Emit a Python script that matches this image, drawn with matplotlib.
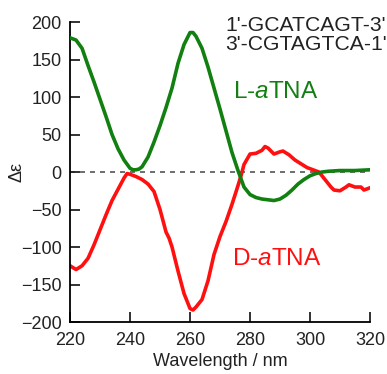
import matplotlib
matplotlib.use("Agg")
import matplotlib.pyplot as plt

plt.rcParams['font.family'] = ['Liberation Sans', 'DejaVu Sans']
plt.rcParams['mathtext.fontset'] = 'custom'
plt.rcParams['mathtext.rm'] = 'Liberation Sans'
plt.rcParams['mathtext.it'] = 'Liberation Sans:italic'

wl_L = [220, 222, 224, 226, 228, 230, 232, 234, 236, 238, 240, 241, 242, 243, 244, 246, 248, 250, 252, 254,
        256, 258, 260, 261, 262, 264, 266, 268, 270, 272, 274, 276, 278, 280, 282, 284, 286, 288, 290,
        292, 294, 296, 298, 300, 302, 304, 306, 310, 315, 320]
cd_L = [179, 176, 165, 142, 120, 97, 74, 50, 31, 16, 5, 3, 3, 4, 7, 20, 40, 62, 86, 112,
        145, 170, 186, 186, 181, 165, 140, 112, 84, 55, 26, 2, -20, -30, -34, -36, -37, -38, -36,
        -31, -24, -16, -10, -5, -2, 0, 1, 2, 2, 3]

wl_D = [220, 222, 224, 226, 228, 230, 232, 234, 236, 238, 239, 240, 242, 244, 246, 248, 250, 252, 253,
        254, 256, 258, 260, 261, 262, 264, 266, 268, 270, 272, 274, 276, 277, 278, 280, 282, 284, 285,
        286, 288, 290, 291, 293, 295, 297, 299, 301, 303, 305, 307, 308, 310, 312, 313, 315, 317, 318, 320]
cd_D = [-125, -130, -125, -115, -97, -77, -57, -38, -23, -8, -2, -3, -6, -10, -16, -26, -50, -80, -88,
        -100, -132, -162, -182, -184, -180, -170, -145, -110, -86, -66, -43, -18, -5, 10, 24, 25, 29, 34,
        32, 24, 27, 28, 23, 16, 11, 6, 3, 0, -10, -20, -24, -25, -20, -17, -20, -20, -24, -21]

fig = plt.figure(figsize=(3.87, 3.74), dpi=100)
ax = fig.add_axes([0.181, 0.139, 0.775, 0.802])

ax.axhline(0, color='#555555', lw=1.2, ls=(0, (3, 3)), zorder=1)
ax.plot(wl_D, cd_D, color='#ff1010', lw=2.6, zorder=2)
ax.plot(wl_L, cd_L, color='#118011', lw=2.6, zorder=3)

ax.set_xlim(220, 320)
ax.set_ylim(-200, 200)
ax.set_xticks([220, 240, 260, 280, 300, 320])
ax.set_yticks([-200, -150, -100, -50, 0, 50, 100, 150, 200])
for s in ['top', 'right']:
    ax.spines[s].set_visible(False)
for s in ['left', 'bottom']:
    ax.spines[s].set_linewidth(1.3)
ax.tick_params(direction='in', length=7, width=1.3, labelsize=13, colors='#222222')
ax.tick_params(axis='x', pad=7)
ax.tick_params(axis='y', pad=6)
ax.set_xlabel('Wavelength / nm', fontsize=13, color='#222222', labelpad=3)
ax.set_ylabel('Δε', fontsize=13, color='#222222')
ax.yaxis.set_label_coords(-0.147, 0.5)

fig.text(0.582, 0.933, "1'-GCATCAGT-3'", fontsize=15.2, color='#222222', ha='left', va='center')
fig.text(0.582, 0.882, "3'-CGTAGTCA-1'", fontsize=15.2, color='#222222', ha='left', va='center')
ax.text(274.3, 107.0, "L-$\\it{a}$TNA", fontsize=17.5, color='#118011', ha='left', va='center')
ax.text(274.0, -116.0, "D-$\\it{a}$TNA", fontsize=17.5, color='#ff1010', ha='left', va='center')

fig.savefig('out.png', dpi=100)
